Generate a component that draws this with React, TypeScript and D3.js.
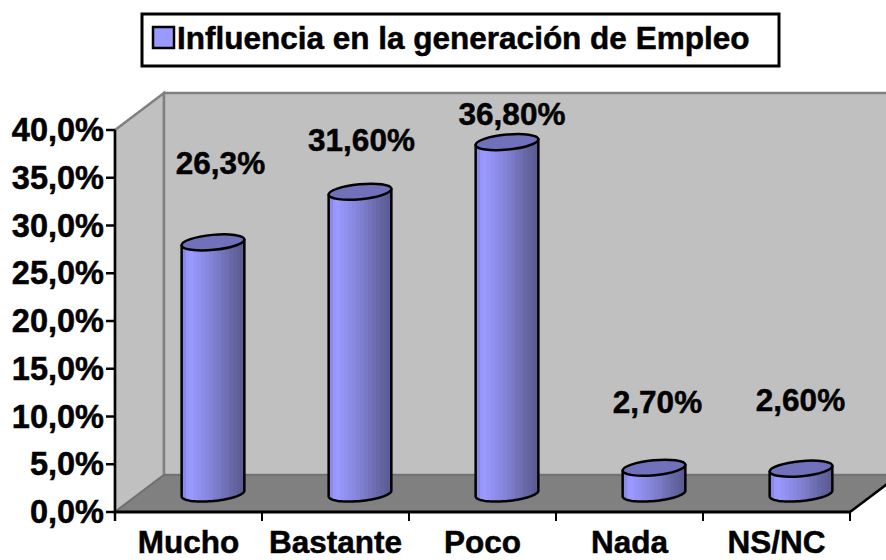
import React from "react";
import * as d3 from "d3";

const categories = ["Mucho", "Bastante", "Poco", "Nada", "NS/NC"];
const values = [26.3, 31.6, 36.8, 2.7, 2.6];
const barLabels = ["26,3%", "31,60%", "36,80%", "2,70%", "2,60%"];
const labelX = [220.5, 361.5, 512, 657.5, 800.5];
const labelY = [174, 151, 125, 413, 411];
const yTicks = [0, 5, 10, 15, 20, 25, 30, 35, 40];
const legendTitle = "Influencia en la generación de Empleo";

const FONT = "'Liberation Sans', Arial, sans-serif";
const shadeColors = ["#8a8ae6", "#9797fb", "#9999ff", "#9494f6", "#9090ef", "#8c8ce8", "#8888e0", "#8383d8", "#7e7ece", "#7979c6", "#7373bc", "#6e6eb2", "#6868a8", "#63639f", "#5f5f99", "#5c5c94"];

export default function App() {
  const frontLeft = 115, frontRight = 850, frontBottom = 512, frontTop = 130;
  const dx = 49, dy = -37;
  const y = d3.scaleLinear().domain([0, 40]).range([frontBottom, frontTop]);
  const x = d3.scaleBand<string>().domain(categories).range([frontLeft, frontRight]);
  const step = x.bandwidth();
  const rx = 31.5, ry = 7.5, rot = -5.5;
  const rad = (rot * Math.PI) / 180;
  const ex = rx * Math.cos(rad), ey = rx * Math.sin(rad);
  const tickXs = d3.range(0, categories.length + 1).map((i) => frontLeft + i * step);
  const line = d3.line<[number, number]>();
  const lowerArc = (cx: number, cy: number) =>
    d3.range(0, 41).map((k): [number, number] => {
      const t = Math.PI * (1 - k / 40);
      return [
        cx + rx * Math.cos(t) * Math.cos(rad) - ry * Math.sin(t) * Math.sin(rad),
        cy + rx * Math.cos(t) * Math.sin(rad) + ry * Math.sin(t) * Math.cos(rad),
      ];
    });
  const textStroke = { stroke: "#000", strokeWidth: 0.5 };
  return (
    <svg width={886} height={560} style={{ position: "absolute", left: 0, top: 0 }} fontFamily={FONT} fontWeight="bold">
      <defs>
        <linearGradient id="cyl" x1="0" x2="1" y1="0" y2="0">
          {shadeColors.flatMap((c, i) => [
            <stop key={`a${i}`} offset={i / shadeColors.length} stopColor={c} />,
            <stop key={`b${i}`} offset={(i + 1) / shadeColors.length} stopColor={c} />,
          ])}
        </linearGradient>
      </defs>
      <rect x={0} y={0} width={886} height={560} fill="#fff" />
      <rect x={142} y={14} width={637} height={52} fill="#fff" stroke="#000" strokeWidth={3} />
      <rect x={153} y={27} width={21} height={21} fill="#9999ff" stroke="#000" strokeWidth={2.5} />
      <text x={177} y={49} fontSize={31.5} {...textStroke}>{legendTitle}</text>

      <polygon points={`${frontLeft},${frontTop} ${frontLeft + dx},${frontTop + dy} ${frontLeft + dx},${frontBottom + dy} ${frontLeft},${frontBottom}`} fill="#c0c0c0" stroke="#808080" strokeWidth={2.5} />
      <rect x={frontLeft + dx} y={frontTop + dy} width={frontRight - frontLeft} height={frontBottom - frontTop} fill="#c0c0c0" stroke="#808080" strokeWidth={2.5} />
      <polygon points={`${frontLeft},${frontBottom} ${frontLeft + dx},${frontBottom + dy} ${frontRight + dx},${frontBottom + dy} ${frontRight},${frontBottom}`} fill="#808080" stroke="#6e6e6e" strokeWidth={1.5} />
      <line x1={frontRight} y1={frontBottom} x2={frontRight + dx} y2={frontBottom + dy} stroke="#000" strokeWidth={2.5} />

      {categories.map((c, i) => {
        const cx = x(c)! + step / 2 + dx / 2;
        const base = frontBottom + dy / 2;
        const top = base - (frontBottom - y(values[i]));
        const pts: [number, number][] = [[cx - ex, top - ey], ...lowerArc(cx, base), [cx + ex, top + ey]];
        return (
          <g key={c}>
            <path d={line(pts)! + "Z"} fill="url(#cyl)" stroke="#000" strokeWidth={2.5} strokeLinejoin="round" />
            <ellipse cx={cx} cy={top} rx={rx} ry={ry} transform={`rotate(${rot} ${cx} ${top})`} fill="#7070bb" stroke="#000" strokeWidth={2.5} />
            <text x={labelX[i]} y={labelY[i]} fontSize={31.5} textAnchor="middle" {...textStroke}>{barLabels[i]}</text>
          </g>
        );
      })}

      <line x1={frontLeft} x2={frontLeft} y1={frontTop} y2={frontBottom + 9} stroke="#000" strokeWidth={2.5} />
      <line x1={frontLeft} x2={frontRight} y1={frontBottom} y2={frontBottom} stroke="#000" strokeWidth={3} />
      {yTicks.map((t) => (
        <g key={t}>
          <line x1={frontLeft - 9} x2={frontLeft} y1={y(t)} y2={y(t)} stroke="#000" strokeWidth={2.5} />
          <text x={104} y={y(t) + 11} fontSize={32.5} textAnchor="end" {...textStroke}>{d3.format(".1f")(t).replace(".", ",")}%</text>
        </g>
      ))}
      {tickXs.map((tx) => (
        <line key={tx} x1={tx} x2={tx} y1={frontBottom} y2={frontBottom + 9} stroke="#000" strokeWidth={2} />
      ))}
      {categories.map((c) => (
        <text key={c} x={x(c)! + step / 2} y={553} fontSize={31.5} textAnchor="middle" {...textStroke}>{c}</text>
      ))}
    </svg>
  );
}
